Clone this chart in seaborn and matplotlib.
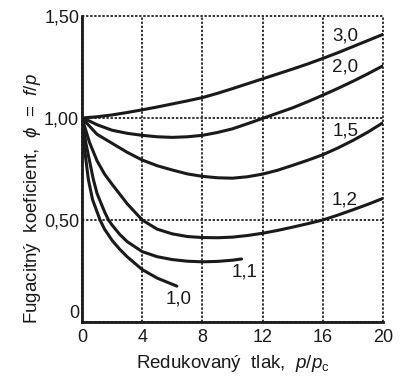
import matplotlib
matplotlib.use("Agg")
import matplotlib.pyplot as plt
import seaborn as sns
import pandas as pd

# Reduced temperature curves (T_r) : x = reduced pressure, y = fugacity coefficient
tr_labels = ["3,0", "2,0", "1,5", "1,2", "1,1", "1,0"]

x_30 = [0, 1, 2, 3, 4, 5, 6, 7, 8, 9, 10, 11, 12, 13, 14, 15, 16, 17, 18, 19, 20]
y_30 = [1.0, 1.006, 1.015, 1.027, 1.04, 1.054, 1.069, 1.084, 1.100, 1.121, 1.144, 1.168, 1.192, 1.216, 1.24, 1.265, 1.292, 1.32, 1.35, 1.38, 1.41]

x_20 = [0, 0.5, 1, 2, 3, 4, 5, 6, 7, 8, 9, 10, 11, 12, 13, 14, 15, 16, 17, 18, 19, 20]
y_20 = [1.0, 0.985, 0.967, 0.94, 0.925, 0.915, 0.908, 0.905, 0.908, 0.915, 0.929, 0.947, 0.972, 0.998, 1.024, 1.05, 1.08, 1.112, 1.145, 1.18, 1.217, 1.256]

x_15 = [0, 0.5, 1, 2, 3, 4, 5, 6, 7, 8, 9, 10, 11, 12, 13, 14, 15, 16, 17, 18, 19, 20]
y_15 = [1.0, 0.96, 0.92, 0.876, 0.832, 0.794, 0.766, 0.745, 0.726, 0.714, 0.707, 0.705, 0.712, 0.725, 0.744, 0.768, 0.793, 0.82, 0.853, 0.89, 0.931, 0.977]

x_12 = [0, 0.25, 0.5, 1, 1.5, 2, 3, 4, 5, 6, 7, 8, 9, 10, 11, 12, 13, 14, 15, 16, 17, 18, 19, 20]
y_12 = [1.0, 0.94, 0.88, 0.79, 0.725, 0.675, 0.58, 0.50, 0.455, 0.432, 0.419, 0.414, 0.413, 0.416, 0.424, 0.435, 0.449, 0.465, 0.482, 0.50, 0.524, 0.55, 0.577, 0.606]

x_11 = [0, 0.25, 0.5, 0.75, 1, 1.5, 1.76, 2, 2.5, 3, 4, 5, 6, 7, 8, 9, 10, 10.6]
y_11 = [1.0, 0.88, 0.79, 0.70, 0.63, 0.54, 0.50, 0.475, 0.43, 0.394, 0.345, 0.32, 0.306, 0.298, 0.295, 0.297, 0.303, 0.309]

x_10 = [0, 0.2, 0.42, 0.7, 1, 1.2, 1.5, 2, 2.5, 3, 4, 5, 6, 6.3]
y_10 = [1.0, 0.83, 0.70, 0.60, 0.54, 0.50, 0.455, 0.40, 0.357, 0.32, 0.257, 0.215, 0.185, 0.176]

xs = [x_30, x_20, x_15, x_12, x_11, x_10]
ys = [y_30, y_20, y_15, y_12, y_11, y_10]

x_ticks = [0, 4, 8, 12, 16, 20]
x_ticklabels = ["0", "4", "8", "12", "16", "20"]
y_ticks = [0, 0.5, 1.0, 1.5]
y_ticklabels = ["0", "0,50", "1,00", "1,50"]

rows = []
for lab, xv, yv in zip(tr_labels, xs, ys):
    for a, b in zip(xv, yv):
        rows.append({"Tr": lab, "pr": a, "phi": b})
df = pd.DataFrame(rows)

sns.set_style("white")
plt.rcParams["font.family"] = ["Liberation Sans", "DejaVu Sans"]
plt.rcParams["mathtext.fontset"] = "custom"
plt.rcParams["mathtext.rm"] = "Liberation Sans"
plt.rcParams["mathtext.it"] = "Liberation Sans:italic"

fig = plt.figure(figsize=(4.05, 3.82), dpi=100)
ax = fig.add_axes([82 / 405, 1 - 322 / 382, 301 / 405, 306 / 382])

sns.lineplot(data=df, x="pr", y="phi", hue="Tr", units="Tr", estimator=None,
             palette=["#1a1a1a"] * 6, linewidth=2.2, sort=False, legend=False, ax=ax)

ax.set_xlim(0, 20)
ax.set_ylim(0, 1.5)
ax.set_xticks(x_ticks)
ax.set_xticklabels(x_ticklabels)
ax.set_yticks(y_ticks)
ax.set_yticklabels(y_ticklabels)
ax.tick_params(axis="both", length=0, labelsize=13, colors="#1a1a1a")
ax.tick_params(axis="x", pad=5)
ax.tick_params(axis="y", pad=2)
ylabs = ax.get_yticklabels()
ylabs[0].set_verticalalignment("bottom")

ax.grid(True, color="#333333", linestyle=(0, (1.2, 0.9)), linewidth=1.4)
for gl in ax.get_xgridlines() + ax.get_ygridlines():
    gl.set_clip_on(False)
ax.set_axisbelow(True)

for s in ["top", "right"]:
    ax.spines[s].set_visible(False)
for s in ["left", "bottom"]:
    ax.spines[s].set_linewidth(2.0)
    ax.spines[s].set_color("#1a1a1a")
    ax.spines[s].set_zorder(5)

ax.set_xlabel("Redukovaný  tlak,  $p/p_{\\mathrm{c}}$", fontsize=13.5, color="#1a1a1a", labelpad=5)
ax.set_ylabel("Fugacitný  koeficient,  $\\phi$  =  $f/p$", fontsize=13.5, color="#1a1a1a")
ax.yaxis.set_label_coords(-0.128, 0.405)

label_pos = [(17.5, 1.404), (17.5, 1.248), (17.5, 0.936), (17.45, 0.598), (10.8, 0.243), (6.45, 0.113)]
for lab, (px, py) in zip(tr_labels, label_pos):
    ax.text(px, py, lab, fontsize=13.5, ha="center", va="center", color="#1a1a1a")

fig.savefig("out.png", dpi=100)
